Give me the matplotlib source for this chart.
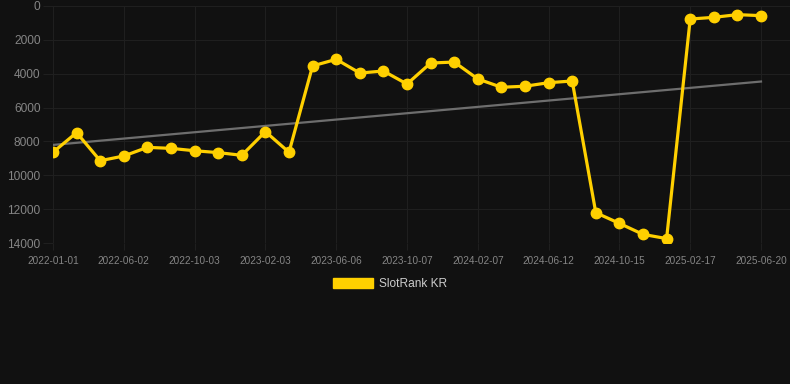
import matplotlib

matplotlib.use("Agg")
import matplotlib.pyplot as plt
import numpy as np
from matplotlib.patches import Patch

# rank values, one point every ~41 days (category axis)
ranks = [8640, 7480, 9140, 8860, 8350, 8410, 8550, 8660, 8820, 7420,
         8640, 3540, 3150, 3960, 3840, 4610, 3370, 3310, 4310, 4800,
         4740, 4530, 4430, 12210, 12840, 13490, 13740, 770, 670, 510, 570]
tick_labels = ["2022-01-01", "2022-06-02", "2022-10-03", "2023-02-03",
               "2023-06-06", "2023-10-07", "2024-02-07", "2024-06-12",
               "2024-10-15", "2025-02-17", "2025-06-20"]
y_ticks = [0, 2000, 4000, 6000, 8000, 10000, 12000, 14000]
series_name = "SlotRank KR"

BG = "#111111"
GRID = "#1f1f1f"
TEXT = "#858585"
GOLD = "#FFD000"

plt.rcParams["font.family"] = ["Liberation Sans", "DejaVu Sans"]

fig = plt.figure(figsize=(7.9, 3.84), dpi=100, facecolor=BG)
W, H = 790, 384
left, right, top, bottom = 53, 790, 6, 243
ax = fig.add_axes([left / W, 1 - bottom / H, (right - left) / W, (bottom - top) / H])
ax.set_facecolor(BG)

x = np.arange(len(ranks))
slope, intercept = np.polyfit(x, ranks, 1)
ax.plot(x, slope * x + intercept, color="#6e6e6e", lw=1.6, zorder=2)
ax.plot(x, ranks, color=GOLD, lw=2.3, marker="o", ms=7.5, zorder=3)

ax.set_xlim(0, (right - 53) / 23.6)
ax.set_ylim(14000, 0)
ax.set_xticks(x[::3])
ax.set_xticklabels(tick_labels)
ax.set_yticks(y_ticks)
ax.set_yticklabels([str(v) for v in y_ticks])
ax.grid(True, color=GRID, lw=0.8)
ax.tick_params(axis="x", colors=GRID, labelcolor=TEXT, labelsize=7.2, length=5, pad=4)
ax.tick_params(axis="y", colors=GRID, labelcolor=TEXT, labelsize=8.6, length=7, pad=2)
for s in ax.spines.values():
    s.set_visible(False)
ax.set_axisbelow(True)

handle = Patch(facecolor=GOLD, edgecolor=GOLD)
fig.legend([handle], [series_name], loc="center", bbox_to_anchor=(390 / W, 1 - 284 / H),
           frameon=False, labelcolor="#cccccc", fontsize=8.6, handlelength=3.3,
           handleheight=0.9, handletextpad=0.5)

fig.savefig("out.png", dpi=100, facecolor=BG)
